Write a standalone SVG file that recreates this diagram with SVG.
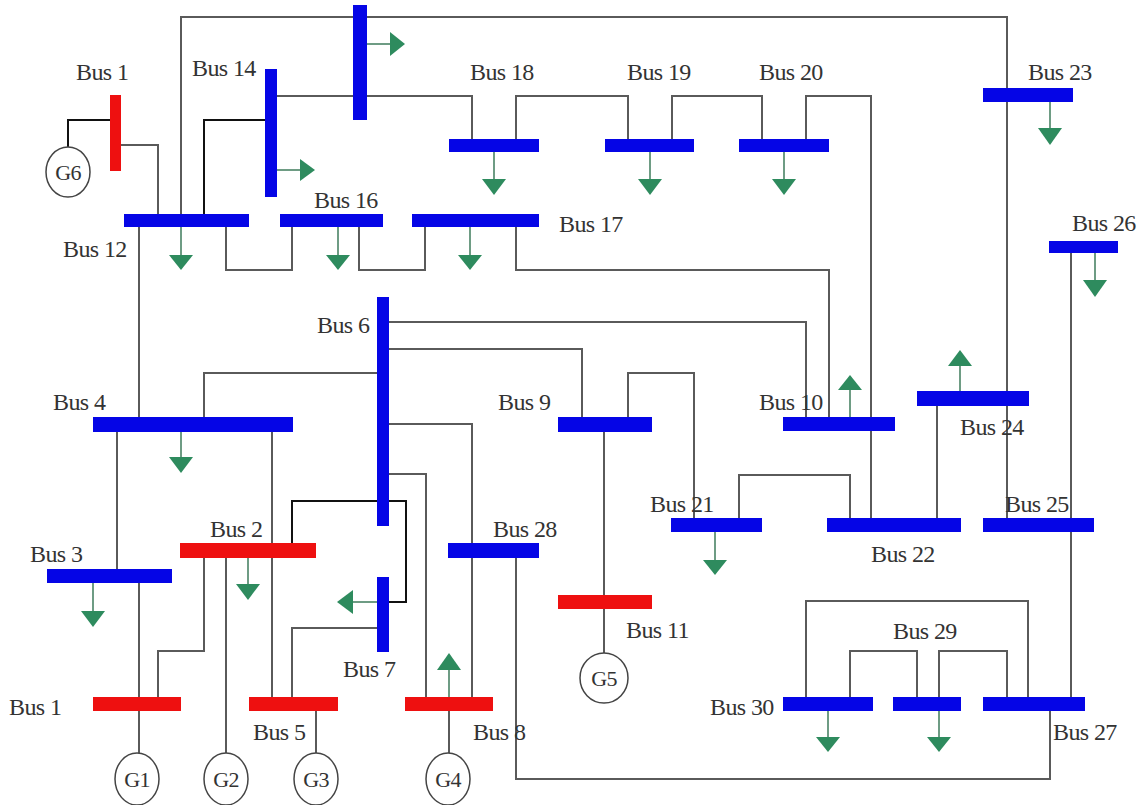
<svg xmlns="http://www.w3.org/2000/svg" width="1143" height="805" viewBox="0 0 1143 805">
<style>
.ln{fill:none;stroke:#5a5a5a;stroke-width:2}
.dk{fill:none;stroke:#111;stroke-width:2}
.bb{fill:#0505e6}
.rb{fill:#ee1010}
.st{fill:none;stroke:#6e9c84;stroke-width:2}
.hd{fill:#2e8b5e}
.lb{font-family:'Liberation Serif','DejaVu Serif','Times New Roman',serif;font-size:24px;fill:#333;letter-spacing:-0.6px}
.gl{font-family:'Liberation Serif','DejaVu Serif','Times New Roman',serif;font-size:22px;fill:#333;text-anchor:middle;letter-spacing:-0.8px}
.gc{fill:#fff;stroke:#444;stroke-width:1.5}
</style>
<rect width="1143" height="805" fill="#fff"/>
<g id="connectors">
<path class="dk" d="M68,147 V120 H110"/>
<path class="ln" d="M121,145 H158 V214"/>
<path class="ln" d="M181,214 V17 H1007 V518"/>
<path class="dk" d="M265,120 H204 V214"/>
<path class="ln" d="M277,96 H472 V139"/>
<path class="ln" d="M139,227 V417"/>
<path class="ln" d="M226,227 V270 H292 V227"/>
<path class="ln" d="M359,227 V270 H425 V227"/>
<path class="ln" d="M516,227 V270 H829 V417"/>
<path class="ln" d="M516,139 V96 H628 V139"/>
<path class="ln" d="M672,139 V96 H762 V139"/>
<path class="ln" d="M806,139 V96 H871 V518"/>
<path class="ln" d="M389,322 H806 V417"/>
<path class="ln" d="M389,349 H582 V417"/>
<path class="ln" d="M377,373 H204 V417"/>
<path class="ln" d="M389,424 H472 V697"/>
<path class="ln" d="M389,474 H426 V697"/>
<path class="dk" d="M292,543 V501 H406 V602 H389"/>
<path class="ln" d="M377,628 H292 V697"/>
<path class="ln" d="M117,432 V569"/>
<path class="ln" d="M272,432 V697"/>
<path class="ln" d="M204,558 V651 H158 V697"/>
<path class="ln" d="M226,558 V753"/>
<path class="ln" d="M139,583 V753"/>
<path class="ln" d="M316,711 V753"/>
<path class="ln" d="M449,711 V753"/>
<path class="ln" d="M516,558 V779 H1050 V711"/>
<path class="ln" d="M604,432 V653"/>
<path class="ln" d="M628,417 V373 H694 V518"/>
<path class="ln" d="M739,518 V475 H850 V518"/>
<path class="ln" d="M937,406 V518"/>
<path class="ln" d="M1071,253 V697"/>
<path class="ln" d="M806,697 V601 H1028 V697"/>
<path class="ln" d="M850,697 V651 H917 V697"/>
<path class="ln" d="M939,697 V651 H1007 V697"/>
</g>
<g id="bus1-top"><rect class="rb" x="110" y="95" width="11" height="76"/><text class="lb" x="76" y="80">Bus 1</text></g>
<g id="g6"><ellipse class="gc" cx="68" cy="172" rx="22" ry="25"/><text class="gl" x="68" y="180">G6</text></g>
<g id="bus14"><rect class="bb" x="265" y="69" width="12" height="128"/><path class="st" d="M277,170 H300"/><path class="hd" d="M300,159 L315,170 L300,181 Z"/><text class="lb" x="192" y="76">Bus 14</text></g>
<g id="bus15"><rect class="bb" x="353" y="5" width="14" height="115"/><path class="st" d="M367,44 H390"/><path class="hd" d="M390,32 L405,44 L390,56 Z"/></g>
<g id="bus12"><rect class="bb" x="124" y="214" width="125" height="13"/><path class="st" d="M181,227 V255"/><path class="hd" d="M169,255 H193 L181,270 Z"/><text class="lb" x="63" y="257">Bus 12</text></g>
<g id="bus16"><rect class="bb" x="280" y="214" width="103" height="13"/><path class="st" d="M338,227 V255"/><path class="hd" d="M326,255 H350 L338,270 Z"/><text class="lb" x="314" y="208">Bus 16</text></g>
<g id="bus17"><rect class="bb" x="412" y="214" width="127" height="13"/><path class="st" d="M470,227 V255"/><path class="hd" d="M458,255 H482 L470,270 Z"/><text class="lb" x="559" y="232">Bus 17</text></g>
<g id="bus18"><rect class="bb" x="449" y="139" width="90" height="13"/><path class="st" d="M494,152 V179"/><path class="hd" d="M482,179 H506 L494,195 Z"/><text class="lb" x="470" y="80">Bus 18</text></g>
<g id="bus19"><rect class="bb" x="605" y="139" width="89" height="13"/><path class="st" d="M650,152 V179"/><path class="hd" d="M638,179 H662 L650,195 Z"/><text class="lb" x="627" y="80">Bus 19</text></g>
<g id="bus20"><rect class="bb" x="739" y="139" width="90" height="13"/><path class="st" d="M784,152 V179"/><path class="hd" d="M772,179 H796 L784,195 Z"/><text class="lb" x="759" y="80">Bus 20</text></g>
<g id="bus23"><rect class="bb" x="983" y="88" width="90" height="14"/><path class="st" d="M1050,102 V128"/><path class="hd" d="M1038,128 H1062 L1050,145 Z"/><text class="lb" x="1028" y="80">Bus 23</text></g>
<g id="bus26"><rect class="bb" x="1049" y="241" width="69" height="12"/><path class="st" d="M1095,253 V280"/><path class="hd" d="M1083,280 H1107 L1095,297 Z"/><text class="lb" x="1072" y="231">Bus 26</text></g>
<g id="bus6"><rect class="bb" x="377" y="297" width="12" height="229"/><text class="lb" x="317" y="333">Bus 6</text></g>
<g id="bus4"><rect class="bb" x="93" y="417" width="200" height="15"/><path class="st" d="M181,432 V457"/><path class="hd" d="M169,457 H193 L181,473 Z"/><text class="lb" x="53" y="410">Bus 4</text></g>
<g id="bus9"><rect class="bb" x="558" y="417" width="94" height="15"/><text class="lb" x="498" y="410">Bus 9</text></g>
<g id="bus10"><rect class="bb" x="783" y="417" width="112" height="14"/><path class="st" d="M850,417 V390"/><path class="hd" d="M838,390 H862 L850,375 Z"/><text class="lb" x="759" y="410">Bus 10</text></g>
<g id="bus24"><rect class="bb" x="917" y="391" width="112" height="15"/><path class="st" d="M960,391 V366"/><path class="hd" d="M948,366 H972 L960,350 Z"/><text class="lb" x="960" y="435">Bus 24</text></g>
<g id="bus21"><rect class="bb" x="671" y="518" width="91" height="14"/><path class="st" d="M715,532 V560"/><path class="hd" d="M703,560 H727 L715,575 Z"/><text class="lb" x="650" y="512">Bus 21</text></g>
<g id="bus22"><rect class="bb" x="827" y="518" width="134" height="14"/><text class="lb" x="871" y="562">Bus 22</text></g>
<g id="bus25"><rect class="bb" x="983" y="518" width="111" height="14"/><text class="lb" x="1005" y="512">Bus 25</text></g>
<g id="bus2"><rect class="rb" x="180" y="543" width="136" height="15"/><path class="st" d="M248,558 V584"/><path class="hd" d="M236,584 H260 L248,600 Z"/><text class="lb" x="210" y="537">Bus 2</text></g>
<g id="bus28"><rect class="bb" x="448" y="543" width="91" height="15"/><text class="lb" x="493" y="537">Bus 28</text></g>
<g id="bus3"><rect class="bb" x="47" y="569" width="125" height="14"/><path class="st" d="M93,583 V611"/><path class="hd" d="M81,611 H105 L93,627 Z"/><text class="lb" x="30" y="562">Bus 3</text></g>
<g id="bus7"><rect class="bb" x="377" y="577" width="12" height="75"/><path class="st" d="M377,602 H353"/><path class="hd" d="M353,590 V614 L337,602 Z"/><text class="lb" x="343" y="677">Bus 7</text></g>
<g id="bus11"><rect class="rb" x="558" y="595" width="94" height="14"/><text class="lb" x="626" y="638">Bus 11</text></g>
<g id="bus1"><rect class="rb" x="93" y="697" width="88" height="14"/><text class="lb" x="9" y="715">Bus 1</text></g>
<g id="bus5"><rect class="rb" x="249" y="697" width="89" height="14"/><text class="lb" x="253" y="740">Bus 5</text></g>
<g id="bus8"><rect class="rb" x="405" y="697" width="88" height="14"/><path class="st" d="M449,697 V670"/><path class="hd" d="M437,670 H461 L449,653 Z"/><text class="lb" x="473" y="740">Bus 8</text></g>
<g id="bus30"><rect class="bb" x="783" y="697" width="90" height="14"/><path class="st" d="M828,711 V737"/><path class="hd" d="M816,737 H840 L828,752 Z"/><text class="lb" x="710" y="715">Bus 30</text></g>
<g id="bus29"><rect class="bb" x="893" y="697" width="68" height="14"/><path class="st" d="M939,711 V737"/><path class="hd" d="M927,737 H951 L939,752 Z"/><text class="lb" x="893" y="639">Bus 29</text></g>
<g id="bus27"><rect class="bb" x="983" y="697" width="102" height="14"/><text class="lb" x="1053" y="740">Bus 27</text></g>
<g id="g1"><ellipse class="gc" cx="137" cy="779" rx="22" ry="26"/><text class="gl" x="137" y="787">G1</text></g>
<g id="g2"><ellipse class="gc" cx="226" cy="779" rx="22" ry="26"/><text class="gl" x="226" y="787">G2</text></g>
<g id="g3"><ellipse class="gc" cx="316" cy="779" rx="22" ry="26"/><text class="gl" x="316" y="787">G3</text></g>
<g id="g4"><ellipse class="gc" cx="448" cy="779" rx="22" ry="26"/><text class="gl" x="448" y="787">G4</text></g>
<g id="g5"><ellipse class="gc" cx="604" cy="678" rx="24" ry="25"/><text class="gl" x="604" y="686">G5</text></g>
</svg>
